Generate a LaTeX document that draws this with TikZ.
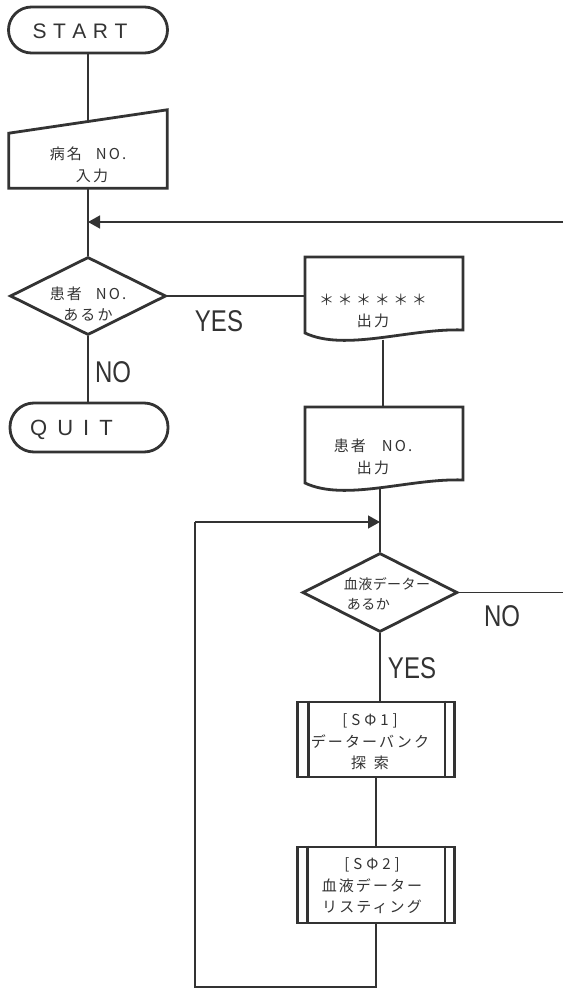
\documentclass[tikz,border=0pt]{standalone}
\usepackage{fontspec}
\usepackage{graphicx}
\setmainfont{Liberation Sans}
\newfontfamily\cjk{Noto Sans CJK JP}[LetterSpace=14]
\usetikzlibrary{shapes.geometric,arrows.meta,calc}
\definecolor{ink}{HTML}{333333}
\begin{document}
\begin{tikzpicture}[x=1pt,y=-1pt,
  shp/.style={draw=ink, line width=2.8pt},
  conn/.style={draw=ink, line width=1.4pt},
  arr/.style={conn,-{Triangle[length=12pt,width=13pt]}},
  term/.style={shp, rectangle, rounded corners=23pt, minimum width=159pt, minimum height=46pt, inner sep=0pt},
  ghost/.style={rectangle, inner sep=0pt},
  dec/.style={shp, diamond, inner sep=0pt},
  predef/.style={shp, rectangle, inner sep=0pt, minimum width=157pt, minimum height=75pt},
  jtext/.style={text=ink, font=\cjk\fontsize{15}{21.5}\selectfont, align=center, inner sep=0pt},
  ltext/.style={text=ink, inner sep=0pt},
  lbl/.style={text=ink, font=\fontsize{30}{30}\selectfont, inner sep=0pt}]
\fill[white] (0,0) rectangle (563,990);
\useasboundingbox (0,0) rectangle (563,990);

% ---------- column 1 ----------
\node[term] (start) at (88,30) {};
\node[ltext, font=\fontsize{21}{21}\selectfont] (startt) at (80,31)
  {S\hspace{6.5pt}T\hspace{6.5pt}A\hspace{6.5pt}R\hspace{6.5pt}T};

\node[ghost, minimum width=158pt, minimum height=78pt] (in) at (88,149) {};
\draw[shp] (in.south west) -- (in.south east) -- (in.north east)
  -- ($(in.south west)+(0,-55)$) -- cycle;
\coordinate (intop) at (88,121.5);
\node[jtext] (int) at (88,165) {病名\hspace{14pt}NO.\\\hspace{8pt}入力};

\coordinate (j1) at (88,222);
\coordinate (r1) at (563,222);

\node[dec, minimum width=156pt, minimum height=78pt] (d1) at (88,296) {};
\node[jtext] (d1t) at (88,304) {患者\hspace{14pt}NO.\\あるか};

\node[term, minimum width=158pt, minimum height=49pt, rounded corners=24pt] (quit) at (89,427.5) {};
\node[ltext, font=\fontsize{22}{22}\selectfont] (quitt) at (71.5,430)
  {Q\hspace{10pt}U\hspace{10pt}I\hspace{10pt}T};

\draw[conn] (start.south) -- (intop);
\draw[conn] (in.south) -- (d1.north);
\draw[arr] (r1) -- (j1);
\draw[conn] (d1.south) -- (d1.south |- quit.north);

\node[lbl] (yes1) at (219,321) {\scalebox{0.8}[1]{YES}};
\node[lbl] (no1) at (113,372) {\scalebox{0.8}[1]{NO}};

% ---------- column 2 ----------
\node[ghost, minimum width=158pt, minimum height=76pt] (doc1) at (384,295) {};
\draw[shp] (305,333) -- (305,257) -- (463,257) -- (463,330)
  .. controls (410,328) and (345,352) .. (305,333) -- cycle;
\node[jtext] (doc1t) at (373,311) {\addfontfeature{LetterSpace=24}＊＊＊＊＊＊\\出力};
\coordinate (doc1b) at (383,339.5);

\node[ghost, minimum width=158pt, minimum height=76pt] (doc2) at (384,445) {};
\draw[shp] (305,483) -- (305,407) -- (463,407) -- (463,480)
  .. controls (410,478) and (345,502) .. (305,483) -- cycle;
\node[jtext] (doc2t) at (373,457) {患者\hspace{16pt}NO.\\出力};
\coordinate (doc2b) at (380,489);

\draw[conn] (d1.east) -- (d1.east -| doc1.west);
\draw[conn] (doc1b) -- (doc1b |- doc2.north);

\coordinate (j2) at (380,522);
\node[dec, minimum width=155pt, minimum height=79pt] (d2) at (380,592.5) {};
\node[jtext, align=left, font=\cjk\fontsize{14}{20}\selectfont] (d2t) at (387,594)
  {\addfontfeature{LetterSpace=3}血液データー\\\hspace{3pt}\addfontfeature{LetterSpace=3}あるか};
\coordinate (r2) at (563,592.5);
\draw[conn] (doc2b) -- (d2.north);
\draw[conn] (d2.east) -- (r2);

\node[lbl] (no2) at (502,616) {\scalebox{0.8}[1]{NO}};
\node[lbl] (yes2) at (412,668) {\scalebox{0.8}[1]{YES}};

\node[predef] (p1) at (376,739.5) {};
\draw[shp] ([xshift=12pt]p1.north west) -- ([xshift=12pt]p1.south west);
\draw[shp] ([xshift=-11pt]p1.north east) -- ([xshift=-11pt]p1.south east);
\node[jtext] (p1t) at (370,742) {[\hspace{4pt}S\hspace{4pt}Φ\hspace{4pt}1\hspace{4pt}]\\データーバンク\\探\hspace{8pt}索};

\node[predef, minimum height=76pt] (p2) at (376,885) {};
\draw[shp] ([xshift=11pt]p2.north west) -- ([xshift=11pt]p2.south west);
\draw[shp] ([xshift=-11pt]p2.north east) -- ([xshift=-11pt]p2.south east);
\node[jtext] (p2t) at (372,886) {[\hspace{4pt}S\hspace{4pt}Φ\hspace{4pt}2\hspace{4pt}]\\血液データー\\リスティング};

\draw[conn] (d2.south) -- (d2.south |- p1.north);
\draw[conn] (p1.south) -- (p2.north);

\coordinate (b1) at (376,987);
\coordinate (b2) at (195,987);
\coordinate (b3) at (195,522);
\draw[conn] (p2.south) -- (b1) -- (b2) -- (b3);
\draw[arr] (b3) -- (j2);
\end{tikzpicture}
\end{document}
